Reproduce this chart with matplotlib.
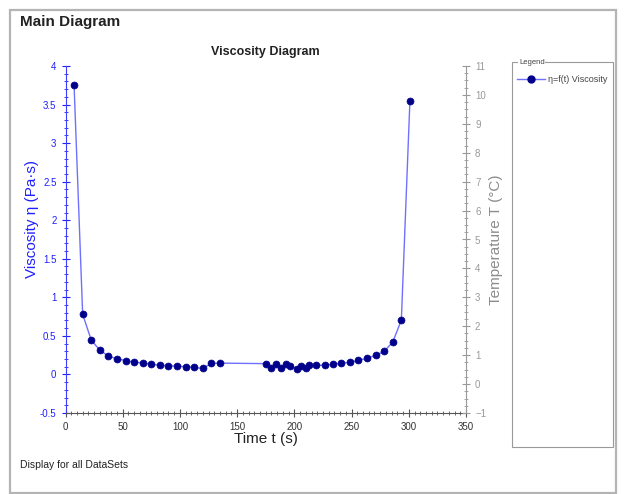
import matplotlib.pyplot as plt
from matplotlib.patches import Rectangle
from matplotlib.lines import Line2D
from matplotlib.ticker import MultipleLocator

plt.rcParams['font.family'] = ['Liberation Sans', 'DejaVu Sans']

# time (s) and viscosity (Pa.s)
t = [7.5, 15, 22.5, 30, 37.5, 45, 52.5, 60, 67.5, 75, 82.5, 90, 97.5, 105, 112.5, 120,
     127.5, 135, 175, 180, 184, 188.5, 193, 196, 202, 206, 210.5, 213, 219, 226.5,
     234, 241, 248.5, 256, 263.5, 271, 278.5, 286, 293.5, 301]
eta = [3.75, 0.78, 0.445, 0.315, 0.237, 0.203, 0.18, 0.158, 0.15, 0.132, 0.12, 0.112,
       0.108, 0.10, 0.091, 0.078, 0.143, 0.147, 0.14, 0.087, 0.14, 0.087, 0.14, 0.11,
       0.075, 0.11, 0.087, 0.117, 0.117, 0.12, 0.13, 0.147, 0.156, 0.182, 0.21, 0.247,
       0.30, 0.42, 0.705, 3.55]

W, H = 626, 494
fig = plt.figure(figsize=(W / 100, H / 100), dpi=100)

def fx(px):
    return px / W

def fy(py):
    return 1 - py / H

# outer frame
fig.patches.append(Rectangle((fx(10), fy(493)), fx(606), 483 / H, transform=fig.transFigure,
                             fill=False, edgecolor='#b4b4b4', linewidth=1.6))
fig.text(fx(20), fy(22), 'Main Diagram', fontsize=11, fontweight='bold', color='#222222',
         va='center', ha='left')
fig.text(fx(20), fy(465), 'Display for all DataSets', fontsize=7.5, color='#222222',
         va='center', ha='left')

ax = fig.add_axes([fx(65.5), fy(413), fx(466) - fx(65.5), fy(66) - fy(413)])
ax.plot(t, eta, '-', color='#7070ff', linewidth=1, zorder=2)
ax.plot(t, eta, 'o', color='#00008b', markersize=5, markeredgewidth=0.5, zorder=3)
ax.set_xlim(0, 350)
ax.set_ylim(-0.5, 4)
ax.xaxis.set_major_locator(MultipleLocator(50))
ax.xaxis.set_minor_locator(MultipleLocator(5))
ax.yaxis.set_minor_locator(MultipleLocator(0.1))
ax.set_yticks([-0.5, 0, 0.5, 1, 1.5, 2, 2.5, 3, 3.5, 4])
ax.set_yticklabels(['-0.5', '0', '0.5', '1', '1.5', '2', '2.5', '3', '3.5', '4'])

ax.spines['top'].set_visible(False)
ax.spines['right'].set_visible(False)
ax.spines['left'].set_color('#3c3cff')
ax.spines['bottom'].set_color('#555555')
ax.tick_params(axis='y', which='both', colors='#2020ff', direction='inout', labelsize=7)
ax.tick_params(axis='y', which='major', length=6)
ax.tick_params(axis='y', which='minor', length=3)
ax.tick_params(axis='x', which='both', colors='#555555', direction='inout', labelsize=7,
               labelcolor='#333333')
ax.tick_params(axis='x', which='major', length=6)
ax.tick_params(axis='x', which='minor', length=3)
ax.set_xlabel('Time t (s)', fontsize=11, color='#222222', labelpad=0)
ax.set_ylabel('Viscosity η (Pa·s)', fontsize=11, color='#2020ff', labelpad=2)
ax.yaxis.set_label_coords(-0.065, 0.56)
ax.set_title('Viscosity Diagram', fontsize=9, fontweight='bold', color='#222222', pad=8)

ax2 = ax.twinx()
ax2.set_ylim(-1, 11)
ax2.yaxis.set_major_locator(MultipleLocator(1))
ax2.yaxis.set_minor_locator(MultipleLocator(0.25))
for s in ['top', 'left', 'bottom']:
    ax2.spines[s].set_visible(False)
ax2.spines['right'].set_color('#999999')
ax2.tick_params(axis='y', which='both', colors='#999999', direction='inout', labelsize=7)
ax2.tick_params(axis='y', which='major', length=6)
ax2.tick_params(axis='y', which='minor', length=3)
ax2.set_ylabel('Temperature T (°C)', fontsize=11, color='#8c8c8c', labelpad=2)

# legend panel
fig.patches.append(Rectangle((fx(512), fy(447)), fx(101), (447 - 62) / H, transform=fig.transFigure,
                             fill=False, edgecolor='#999999', linewidth=0.8))
fig.text(fx(519), fy(62), 'Legend', fontsize=5.5, color='#444444', va='center', ha='left',
         bbox=dict(facecolor='white', edgecolor='none', pad=0.5))
fig.lines.append(Line2D([fx(517), fx(545)], [fy(79), fy(79)], transform=fig.transFigure,
                        color='#7070ff', linewidth=1))
fig.lines.append(Line2D([fx(531)], [fy(79)], transform=fig.transFigure, marker='o',
                        color='#00008b', markersize=5))
fig.text(fx(548), fy(79), 'η=f(t) Viscosity', fontsize=6.5, color='#444444', va='center', ha='left')

fig.savefig('out.png', dpi=100)
